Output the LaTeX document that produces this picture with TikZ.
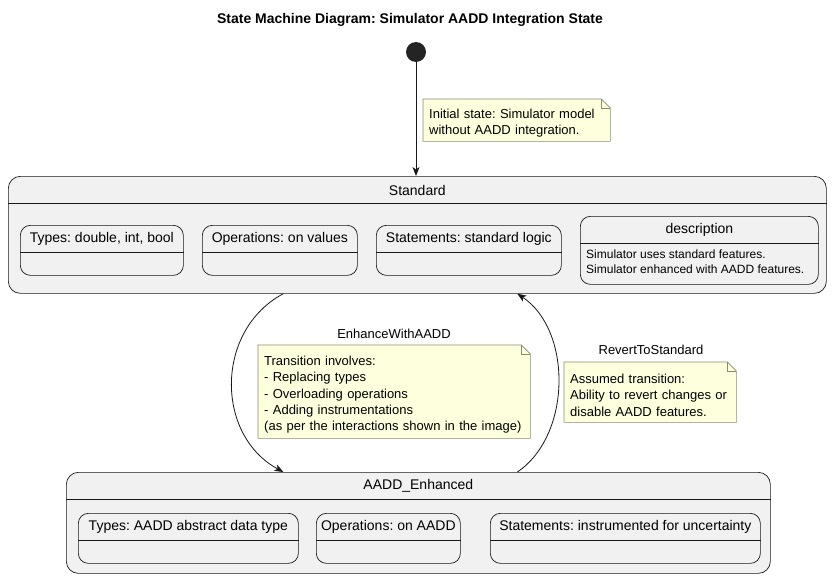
\documentclass[tikz,border=0pt]{standalone}
\usepackage{fontspec}
\setmainfont{Liberation Sans}
\frenchspacing
\usetikzlibrary{arrows.meta, positioning, backgrounds}
\definecolor{stategray}{HTML}{F1F1F1}
\definecolor{linegray}{HTML}{181818}
\definecolor{notefill}{HTML}{FEFFDD}
\definecolor{noteline}{HTML}{8A8A70}
\tikzset{
  state/.style={draw=linegray, fill=stategray, rounded corners=12pt, line width=0.7pt, anchor=north west, inner sep=0pt},
  substate/.style={state, rounded corners=10pt},
  statetext/.style={font=\fontsize{14}{16}\selectfont, inner sep=0pt},
  note/.style={anchor=north west, align=left, inner xsep=6pt, inner ysep=0pt, font=\fontsize{13}{16.2}\selectfont},
  edgetext/.style={font=\fontsize{13}{15}\selectfont, inner sep=0pt},
  trans/.style={draw=linegray, line width=0.8pt, -{Stealth[length=9pt,width=7pt,inset=2.5pt]}}
}
% state box with a header compartment
\newcommand{\statebox}[7]{%
  \node[#7, minimum width=#4pt, minimum height=#5pt] (#1) at (#2,#3) {};
  \node[statetext] (#1-name) at ([yshift=-14pt]#1.north) {#6};
  \draw[draw=linegray, line width=0.7pt] ([yshift=-27.5pt]#1.north west) -- ([yshift=-27.5pt]#1.north east);
}
\begin{document}
\begin{tikzpicture}[x=1pt,y=-1pt]
\useasboundingbox (0,0) rectangle (833,578);
\node[font=\bfseries\fontsize{14}{16}\selectfont] (title) at (410,20) {State Machine Diagram: Simulator AADD Integration State};
\node[circle, fill=linegray!95!white, minimum size=20pt, inner sep=0pt] (init) at (416,52) {};

% Standard
\statebox{standard}{8}{176}{818}{117}{Standard}{state}
\statebox{types}{20}{225}{163}{50}{Types: double, int, bool}{substate}
\statebox{ops}{202}{225}{155}{50}{Operations: on values}{substate}
\statebox{stmts}{376}{225}{185}{50}{Statements: standard logic}{substate}
\statebox{desc}{580}{216}{238}{68}{description}{substate}
\node[anchor=north west, inner sep=0pt, align=left, font=\fontsize{12}{15}\selectfont] (desctext) at ([xshift=6pt,yshift=-34pt]desc.north west)
  {Simulator uses standard features.\\Simulator enhanced with AADD features.};

% AADD_Enhanced
\statebox{enhanced}{66}{472}{704}{101}{AADD\_Enhanced}{state}
\statebox{aaddtypes}{78}{513}{220}{50}{Types: AADD abstract data type}{substate}
\statebox{aaddops}{316}{513}{144}{50}{Operations: on AADD}{substate}
\statebox{aaddstmts}{490}{513}{270}{50}{Statements: instrumented for uncertainty}{substate}

% notes
\node[note, text width=175pt, minimum height=36pt] (note1) at (423,105)
  {Initial state: Simulator model\\without AADD integration.};
\node[note, text width=260pt, minimum height=87pt] (note2) at (258,351)
  {Transition involves:\\- Replacing types\\- Overloading operations\\- Adding instrumentations\\(as per the interactions shown in the image)};
\node[note, text width=160pt, minimum height=54pt] (note3) at (564,368)
  {Assumed transition:\\Ability to revert changes or\\disable AADD features.};
\begin{scope}[on background layer]
\foreach \n in {note1, note2, note3} {
  \filldraw[fill=notefill, draw=noteline, line width=0.6pt] ([yshift=6pt]\n.north west) -- ([xshift=-9pt,yshift=6pt]\n.north east) -- ([yshift=-3pt]\n.north east) -- (\n.south east) -- (\n.south west) -- cycle;
  \draw[noteline, line width=0.6pt] ([xshift=-9pt,yshift=6pt]\n.north east) |- ([yshift=-3pt]\n.north east);
}
\end{scope}

% transitions
\draw[trans] (init) -- (standard.north -| init);
\draw[trans] ([xshift=-134pt]standard.south) .. controls (215,330) and (215,435) .. ([xshift=-135pt]enhanced.north);
\draw[trans] ([xshift=99pt]enhanced.north) .. controls (572,435) and (572,330) .. ([xshift=100pt]standard.south);
\node[edgetext] (enhancelbl) at (394,334) {EnhanceWithAADD};
\node[edgetext] (revertlbl) at (651,350) {RevertToStandard};
\end{tikzpicture}
\end{document}
